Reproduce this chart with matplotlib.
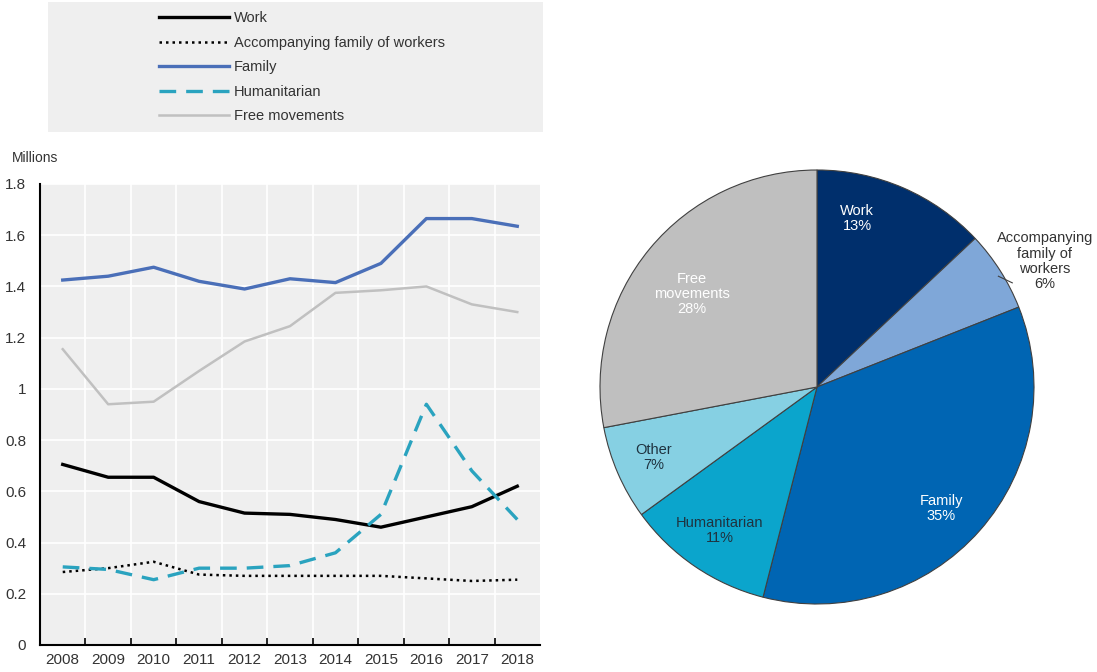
import matplotlib
matplotlib.use("Agg")
import matplotlib.pyplot as plt
import numpy as np
from matplotlib.patches import Rectangle

plt.rcParams["font.family"] = ["Liberation Sans", "DejaVu Sans"]

# ---- Data ----
YEARS = list(range(2008, 2019))
WORK = [0.705, 0.655, 0.655, 0.56, 0.515, 0.51, 0.49, 0.46, 0.50, 0.54, 0.62]
ACCOMP = [0.285, 0.30, 0.325, 0.275, 0.27, 0.27, 0.27, 0.27, 0.26, 0.25, 0.255]
FAMILY = [1.425, 1.44, 1.475, 1.42, 1.39, 1.43, 1.415, 1.49, 1.665, 1.665, 1.635]
HUMANITARIAN = [0.305, 0.295, 0.255, 0.30, 0.30, 0.31, 0.36, 0.51, 0.94, 0.68, 0.49]
FREE_MOV = [1.155, 0.94, 0.95, 1.07, 1.185, 1.245, 1.375, 1.385, 1.40, 1.33, 1.30]

PIE_LABELS = ["Work", "Accompanying\nfamily of\nworkers", "Family", "Humanitarian",
              "Other", "Free\nmovements"]
PIE_SHARES = [13, 6, 35, 11, 7, 28]
PIE_COLORS = ["#002f6c", "#7fa7d8", "#0065b3", "#0ba5cc", "#86d0e3", "#bfbfbf"]
PIE_TEXT = ["white", "#333333", "white", "#1f3340", "#1f3340", "white"]
PIE_RAD = [0.80, None, 0.80, 0.80, 0.82, 0.72]
PIE_SHIFT = [10, 0, -3, 0, 0, 3]  # degrees, label nudges

fig = plt.figure(figsize=(10.97, 6.72), dpi=100)

# ---- Line chart ----
ax = fig.add_axes([40 / 1097, 1 - 645 / 672, 500 / 1097, 461 / 672])
ax.set_facecolor("#efefef")
ax.plot(YEARS, WORK, color="black", lw=2.4, label="Work")
ax.plot(YEARS, ACCOMP, color="black", lw=1.8, ls=(0, (1, 1.6)),
        label="Accompanying family of workers")
ax.plot(YEARS, FAMILY, color="#4a6fb8", lw=2.4, label="Family")
ax.plot(YEARS, HUMANITARIAN, color="#2aa3bf", lw=2.4, ls=(0, (5, 3)), label="Humanitarian")
ax.plot(YEARS, FREE_MOV, color="#c0c0c0", lw=1.8, label="Free movements")

ax.set_xlim(2007.5, 2018.5)
ax.set_ylim(0, 1.8)
ax.set_xticks(YEARS)
ax.set_xticks(np.arange(2008.5, 2018.5, 1), minor=True)
ax.set_yticks(np.arange(0, 1.81, 0.2))
ax.set_yticklabels(["0", "0.2", "0.4", "0.6", "0.8", "1", "1.2", "1.4", "1.6", "1.8"])
ax.tick_params(axis="x", which="major", length=0, labelsize=11, pad=6, colors="#333333")
ax.tick_params(axis="x", which="minor", direction="in", length=5, width=1.2)
ax.tick_params(axis="y", length=0, labelsize=11, pad=10, colors="#333333")
ax.grid(True, axis="y", color="white", lw=1.2)
ax.grid(True, axis="x", which="minor", color="white", lw=1.2)
ax.set_axisbelow(True)
for s in ["top", "right"]:
    ax.spines[s].set_visible(False)
ax.spines["left"].set_linewidth(1.5)
ax.spines["bottom"].set_linewidth(1.5)
fig.text(12 / 1097, 1 - 158 / 672, "Millions", fontsize=10, color="#333333", va="center")

# legend box
fig.patches.append(Rectangle((48 / 1097, 1 - 132 / 672), 495 / 1097, 130 / 672,
                             transform=fig.transFigure, facecolor="#efefef",
                             edgecolor="none", zorder=0))
handles, labels = ax.get_legend_handles_labels()
fig.legend(handles, labels, loc="upper left", bbox_to_anchor=(152 / 1097, 1 - 4 / 672),
           frameon=False, fontsize=10.5, handlelength=4.8, handletextpad=0.3,
           labelspacing=0.72, borderpad=0, labelcolor="#333333")

# ---- Pie chart ----
pax = fig.add_axes([600 / 1097, 1 - 604 / 672, 434 / 1097, 434 / 672])
wedges, _ = pax.pie(PIE_SHARES, colors=PIE_COLORS, startangle=90, counterclock=False,
                    wedgeprops=dict(edgecolor="#404040", linewidth=0.8))
pax.set_xlim(-1, 1)
pax.set_ylim(-1, 1)

for w, lab, pct, col, rad, sh in zip(wedges, PIE_LABELS, PIE_SHARES, PIE_TEXT,
                                     PIE_RAD, PIE_SHIFT):
    mid = np.deg2rad((w.theta1 + w.theta2) / 2)
    txt = f"{lab}\n{pct}%"
    if rad is None:
        pax.plot([0.99 * np.cos(mid), 0.90], [0.99 * np.sin(mid) - 0.02, 0.48],
                 color="#404040", lw=0.8, clip_on=False)
        pax.text(1.05, 0.58, txt, ha="center", va="center", fontsize=10.5,
                 color=col, linespacing=1.1)
    else:
        a = mid + np.deg2rad(sh)
        pax.text(rad * np.cos(a), rad * np.sin(a), txt, ha="center", va="center",
                 fontsize=10.5, color=col, linespacing=1.1)

fig.savefig("out.png", dpi=100)
